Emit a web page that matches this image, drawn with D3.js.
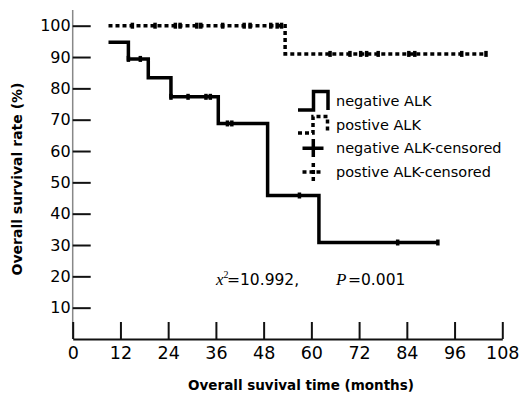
<!DOCTYPE html>
<html>
<head>
<meta charset="utf-8">
<script src="https://cdn.jsdelivr.net/npm/d3@7"></script>
<style>
  body { margin: 0; background: #fff; }
  svg { display: block; }
  text { font-family: "DejaVu Sans", Verdana, sans-serif; fill: #000; }
</style>
</head>
<body>
<div id="chart"></div>
<script>
// survival steps (time in months, survival %)
const negSteps = [
  {t: 9, s: 94.7}, {t: 14, s: 89.4}, {t: 19, s: 83.4}, {t: 24.7, s: 77.3},
  {t: 36.6, s: 68.8}, {t: 49, s: 45.8}, {t: 61.9, s: 30.8}
]
const negEnd = 91.8
const negCensored = [14, 17, 24.7, 29, 33.5, 34.6, 38.9, 40, 57, 81.7, 91.8]

const posSteps = [{t: 9, s: 100}, {t: 53.4, s: 91}]
const posEnd = 103.9
const posCensored = [15, 20.7, 25.8, 27, 31.2, 32.2, 37.7, 43.1, 44.6, 49.8, 51.4, 52.5,
  64.7, 69.7, 72.4, 73.9, 76.8, 84.5, 86, 97.8, 103.9]

const xTicks = [0, 12, 24, 36, 48, 60, 72, 84, 96, 108]
const yTicks = [10, 20, 30, 40, 50, 60, 70, 80, 90, 100]
const legendLabels = ['negative ALK', 'postive ALK', 'negative ALK-censored', 'postive ALK-censored']

const width = 522, height = 394

const svg = d3.select('#chart').append('svg')
  .attr('width', width)
  .attr('height', height)

const x = d3.scaleLinear().domain([0, 108]).range([72.7, 502.3])
const y = d3.scaleLinear().domain([0, 100]).range([339, 25.7])

// y axis line (grey) runs a bit above 100
svg.append('line')
  .attr('x1', x(0)).attr('x2', x(0))
  .attr('y1', y(0)).attr('y2', y(105))
  .attr('stroke', '#888').attr('stroke-width', 1.5)

const yAxis = svg.append('g')
  .attr('transform', `translate(${x(0)},0)`)
  .call(d3.axisLeft(y).tickValues(yTicks).tickSize(-18).tickPadding(2))
yAxis.select('.domain').remove()
yAxis.selectAll('.tick line').attr('stroke', '#111').attr('stroke-width', 2)
yAxis.selectAll('.tick text')
  .style('font-family', '"DejaVu Sans", Verdana, sans-serif')
  .style('font-size', '16px')
  .attr('fill', '#000')

const xAxis = svg.append('g')
  .attr('transform', `translate(0,${y(0)})`)
  .call(d3.axisBottom(x).tickValues(xTicks).tickSize(-17).tickPadding(8).tickSizeOuter(0))
xAxis.select('.domain').attr('stroke', '#111').attr('stroke-width', 2)
xAxis.selectAll('.tick line').attr('stroke', '#111').attr('stroke-width', 2)
xAxis.selectAll('.tick text')
  .style('font-family', '"DejaVu Sans", Verdana, sans-serif')
  .style('font-size', '17.5px')
  .attr('fill', '#000')

// axis titles
svg.append('text')
  .attr('x', 301).attr('y', 390)
  .attr('text-anchor', 'middle')
  .style('font-size', '13.5px').style('font-weight', 'bold')
  .text('Overall suvival time (months)')

svg.append('text')
  .attr('transform', 'translate(22,179) rotate(-90)')
  .attr('text-anchor', 'middle')
  .style('font-size', '14px').style('font-weight', 'bold')
  .text('Overall  survival rate (%)')

// step curves
function stepPoints(steps, end) {
  const pts = steps.map(d => [d.t, d.s])
  pts.push([end, steps[steps.length - 1].s])
  return pts
}
function survAt(steps, t) {
  let s = steps[0].s
  steps.forEach(d => { if (d.t <= t) s = d.s })
  return s
}
const line = d3.line().x(d => x(d[0])).y(d => y(d[1])).curve(d3.curveStepAfter)

svg.append('path')
  .attr('d', line(stepPoints(negSteps, negEnd)))
  .attr('fill', 'none').attr('stroke', '#000').attr('stroke-width', 3.5)

svg.append('path')
  .attr('d', line(stepPoints(posSteps, posEnd)))
  .attr('fill', 'none').attr('stroke', '#000').attr('stroke-width', 3.5)
  .attr('stroke-dasharray', '4,3')

// censor marks
svg.append('g').selectAll('line')
  .data(negCensored)
  .join('line')
  .attr('x1', d => x(d)).attr('x2', d => x(d))
  .attr('y1', d => y(survAt(negSteps, d)) - 3)
  .attr('y2', d => y(survAt(negSteps, d)) + 3)
  .attr('stroke', '#000').attr('stroke-width', 3.5)

svg.append('g').selectAll('line')
  .data(posCensored)
  .join('line')
  .attr('x1', d => x(d)).attr('x2', d => x(d))
  .attr('y1', d => y(survAt(posSteps, d)) - 3)
  .attr('y2', d => y(survAt(posSteps, d)) + 3)
  .attr('stroke', '#000').attr('stroke-width', 3.5)

// legend
const lg = svg.append('g')
lg.append('path')
  .attr('d', 'M298,110 H313.5 V91.5 H328 V110')
  .attr('fill', 'none').attr('stroke', '#000').attr('stroke-width', 3.5)
lg.append('path')
  .attr('d', 'M298,133 H313 V116.5 H327.5 V132')
  .attr('fill', 'none').attr('stroke', '#000').attr('stroke-width', 3.5)
  .attr('stroke-dasharray', '4,3')
lg.append('path')
  .attr('d', 'M302.5,148.3 H323.5 M313.3,139 V157')
  .attr('fill', 'none').attr('stroke', '#000').attr('stroke-width', 3.5)
lg.append('path')
  .attr('d', 'M302.5,172 H323.5 M313.3,163 V181')
  .attr('fill', 'none').attr('stroke', '#000').attr('stroke-width', 3.5)
  .attr('stroke-dasharray', '4,3')

lg.selectAll('text.lab')
  .data(legendLabels)
  .join('text')
  .attr('class', 'lab')
  .attr('x', 336)
  .attr('y', (d, i) => [106, 129.5, 152.5, 176.7][i])
  .style('font-size', '14.5px')
  .text(d => d)

// statistics note
const note = svg.append('text').attr('y', 285).style('font-size', '15.5px')
note.append('tspan').attr('x', 216)
  .style('font-family', '"Liberation Serif", "Times New Roman", serif')
  .style('font-style', 'italic').style('font-size', '17px')
  .text('x')
note.append('tspan').attr('dy', -7)
  .style('font-family', '"Liberation Serif", "Times New Roman", serif')
  .style('font-size', '10px')
  .text('2')
note.append('tspan').attr('x', 227).attr('dy', 7).text('=10.992,')
note.append('tspan').attr('x', 336)
  .style('font-family', '"Liberation Serif", "Times New Roman", serif')
  .style('font-style', 'italic').style('font-size', '17px')
  .text('P')
note.append('tspan').attr('x', 348).text('=0.001')
</script>
</body>
</html>
